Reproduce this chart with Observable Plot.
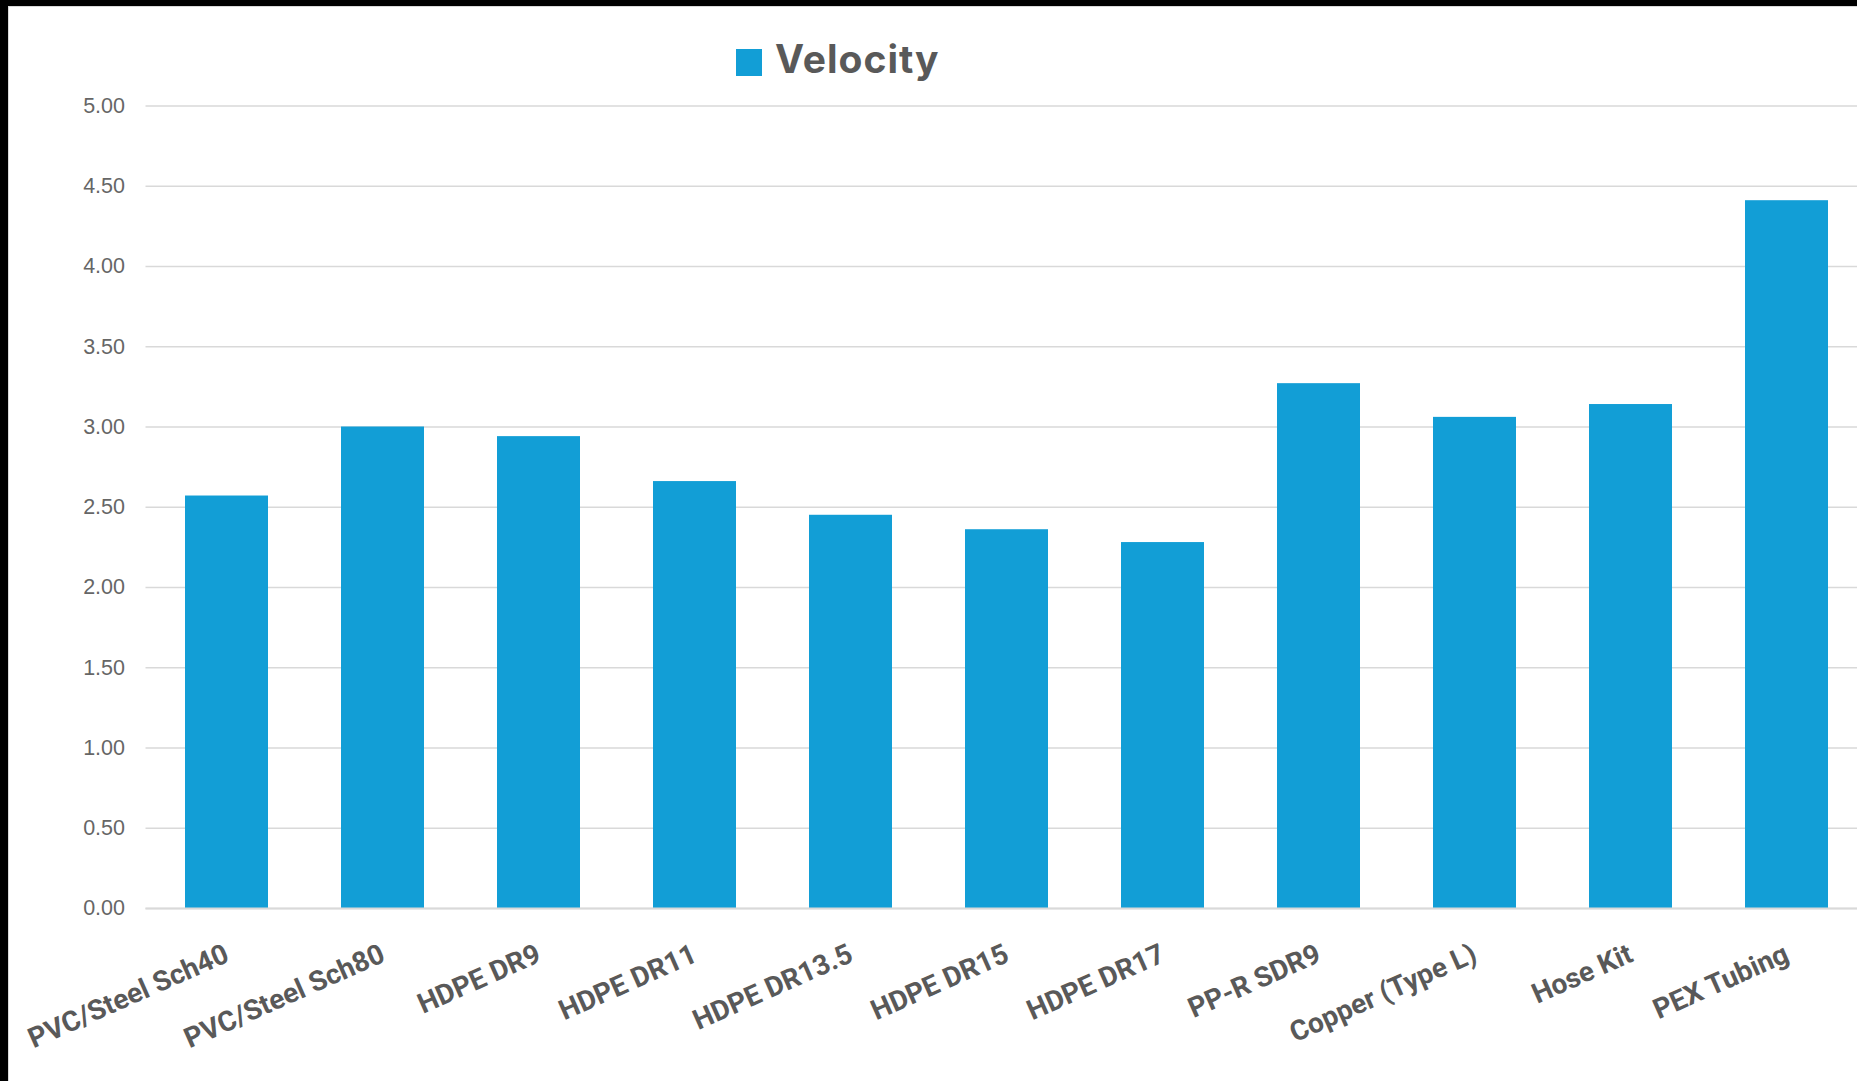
<!DOCTYPE html>
<html><head><meta charset="utf-8">
<script src="https://cdn.jsdelivr.net/npm/d3@7"></script>
<script src="https://cdn.jsdelivr.net/npm/@observablehq/plot@0.6"></script>
<style>
html,body{margin:0;padding:0;background:#000;width:1857px;height:1081px;overflow:hidden;}
#frame{position:absolute;left:8px;top:6px;width:1849px;height:1075px;background:#fff;border-left:1px solid #d9d9d9;border-top:1px solid #d9d9d9;box-sizing:border-box;}
#chart{position:absolute;left:0;top:0;width:1857px;height:1081px;}
#legend{position:relative;height:85px;width:1857px;}
#legend .sw{position:absolute;left:736px;top:49px;width:26px;height:27px;background:#129ed6;}
#legend .lbl{position:absolute;left:775px;top:39px;font-family:Inter;font-weight:bold;font-size:39px;letter-spacing:1px;color:#595959;line-height:1;white-space:nowrap;}
</style>
</head><body>
<div id="frame"></div>
<div id="chart">
  <div id="legend"><span class="sw"></span><span class="lbl">Velocity</span></div>
  <div id="plot"></div>
</div>
<script>
const categories = ["PVC/Steel Sch40","PVC/Steel Sch80","HDPE DR9","HDPE DR11","HDPE DR13.5","HDPE DR15","HDPE DR17","PP-R SDR9","Copper (Type L)","Hose Kit","PEX Tubing"];
const velocity = [2.57, 3.00, 2.94, 2.66, 2.45, 2.36, 2.28, 3.27, 3.06, 3.14, 4.41];
const yTicks = [0, 0.5, 1, 1.5, 2, 2.5, 3, 3.5, 4, 4.5, 5];

const data = categories.map((c, i) => ({category: c, velocity: velocity[i]}));

const chart = Plot.plot({
  width: 1857,
  height: 996,
  marginLeft: 145.5,
  marginRight: -10,
  marginTop: 20.5,
  marginBottom: 173,
  style: {background: "transparent", fontFamily: "'Liberation Sans', Arial, sans-serif"},
  x: {domain: categories, paddingInner: 0.47, paddingOuter: 0.235, label: null},
  y: {domain: [0, 5], label: null},
  marks: [
    Plot.gridY(yTicks, {stroke: "#d9d9d9", strokeOpacity: 1, strokeWidth: 1.5}),
    Plot.barY(data, {x: "category", y: "velocity", fill: "#129ed6"}),
    Plot.ruleY([0], {stroke: "#d9d9d9", strokeWidth: 2}),
    Plot.axisY(yTicks, {tickSize: 0, tickPadding: 21, tickFormat: d => d.toFixed(2), fontSize: 21.5, fill: "#666666", label: null}),
    Plot.axisX({tickSize: 0, tickPadding: 44, tickRotate: -24, fontSize: 28, fontWeight: "bold", fontFamily: "Roboto", fill: "#595959", label: null})
  ]
});
document.getElementById("plot").appendChild(chart);
</script>
</body></html>
